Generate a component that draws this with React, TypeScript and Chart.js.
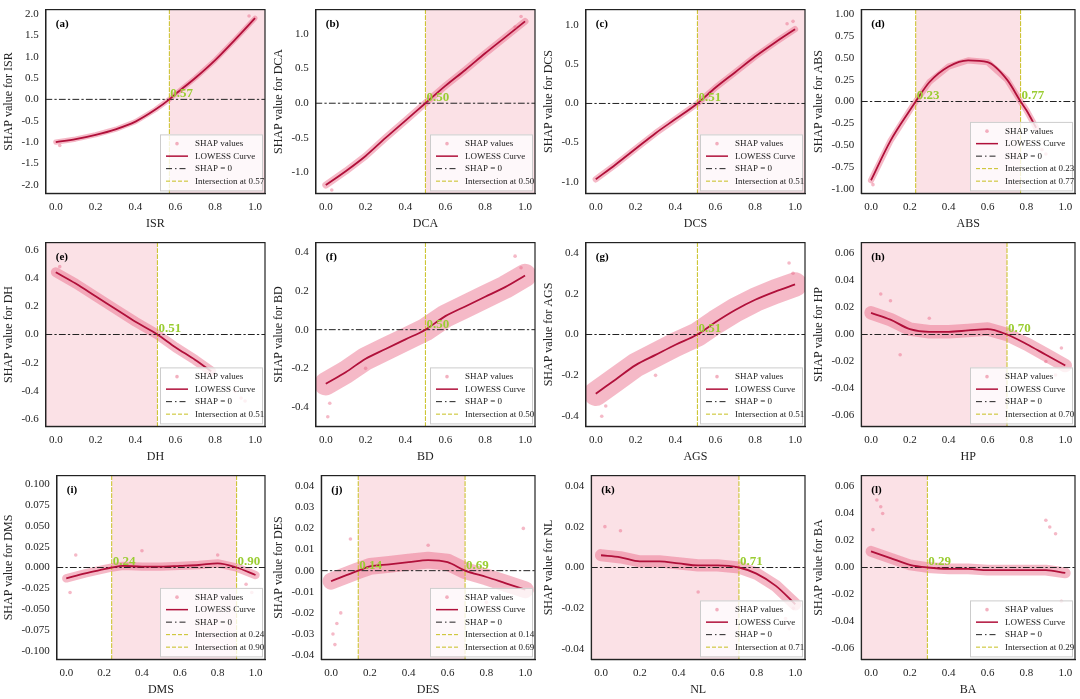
import React, { useEffect, useRef } from "react";
import { Chart, registerables } from "chart.js";

Chart.register(...registerables);

const FONT = "'Liberation Serif', 'DejaVu Serif', serif";

// ---- data ----
const letters = ["a", "b", "c", "d", "e", "f", "g", "h", "i", "j", "k", "l"];
const features = ["ISR", "DCA", "DCS", "ABS", "DH", "BD", "AGS", "HP", "DMS", "DES", "NL", "BA"];
const intersections: number[][] = [
  [0.57], [0.5], [0.51], [0.23, 0.77], [0.51], [0.5], [0.51], [0.7], [0.24, 0.9], [0.14, 0.69], [0.71], [0.29],
];
// shaded x-range (null = none)
const shades: (number[] | null)[] = [
  [0.57, 1.05], [0.5, 1.05], [0.51, 1.05], [0.23, 0.77], [-0.05, 0.51], null, null,
  [-0.05, 0.7], [0.24, 0.9], [0.14, 0.69], [-0.05, 0.71], [-0.05, 0.29],
];
const yMin = [-2.2, -1.3, -1.15, -1.05, -0.65, -0.5, -0.45, -0.068, -0.11, -0.042, -0.045, -0.068];
const yMax = [2.1, 1.35, 1.2, 1.05, 0.65, 0.45, 0.45, 0.068, 0.11, 0.045, 0.045, 0.068];
const ySteps = [0.5, 0.5, 0.5, 0.25, 0.2, 0.2, 0.2, 0.02, 0.025, 0.01, 0.02, 0.02];
const yDecimals = [1, 1, 1, 2, 1, 1, 1, 2, 3, 2, 2, 2];
// half-width of the scatter cloud around the curve (y units)
const spread = [0.06, 0.05, 0.04, 0.035, 0.035, 0.06, 0.06, 0.005, 0.005, 0.004, 0.003, 0.004];

const curveX: number[][] = [
  [0, 0.1, 0.2, 0.3, 0.4, 0.5, 0.57, 0.6, 0.7, 0.8, 0.9, 1.0],
  [0, 0.1, 0.2, 0.3, 0.4, 0.5, 0.6, 0.7, 0.8, 0.9, 1.0],
  [0, 0.1, 0.2, 0.3, 0.4, 0.51, 0.6, 0.7, 0.8, 0.9, 1.0],
  [0, 0.1, 0.2, 0.23, 0.3, 0.4, 0.5, 0.6, 0.7, 0.77, 0.8, 0.85],
  [0, 0.1, 0.2, 0.3, 0.4, 0.51, 0.6, 0.7, 0.78],
  [0, 0.1, 0.2, 0.3, 0.4, 0.5, 0.6, 0.7, 0.8, 0.9, 1.0],
  [0, 0.1, 0.2, 0.3, 0.4, 0.51, 0.6, 0.7, 0.8, 0.9, 1.0],
  [0, 0.1, 0.2, 0.3, 0.4, 0.5, 0.6, 0.7, 0.8, 0.9, 1.0],
  [0, 0.1, 0.2, 0.24, 0.3, 0.4, 0.5, 0.6, 0.7, 0.8, 0.9, 1.0],
  [0, 0.14, 0.2, 0.3, 0.4, 0.5, 0.6, 0.69, 0.8, 0.9, 1.0],
  [0, 0.1, 0.2, 0.3, 0.4, 0.5, 0.6, 0.71, 0.8, 0.9, 1.0],
  [0, 0.1, 0.2, 0.29, 0.4, 0.5, 0.6, 0.7, 0.8, 0.9, 1.0],
];
const curveY: number[][] = [
  [-1.0, -0.93, -0.83, -0.7, -0.52, -0.24, 0, 0.12, 0.5, 0.92, 1.4, 1.9],
  [-1.18, -0.98, -0.76, -0.5, -0.25, 0, 0.25, 0.48, 0.72, 0.95, 1.18],
  [-0.97, -0.78, -0.58, -0.38, -0.2, 0, 0.2, 0.4, 0.6, 0.78, 0.95],
  [-0.9, -0.45, -0.1, 0, 0.22, 0.4, 0.47, 0.45, 0.25, 0, -0.1, -0.3],
  [0.44, 0.36, 0.27, 0.18, 0.09, 0, -0.09, -0.18, -0.26],
  [-0.28, -0.22, -0.15, -0.1, -0.05, 0, 0.07, 0.12, 0.17, 0.22, 0.28],
  [-0.29, -0.22, -0.15, -0.1, -0.05, 0, 0.06, 0.12, 0.17, 0.21, 0.245],
  [0.016, 0.011, 0.004, 0.002, 0.002, 0.003, 0.004, 0, -0.007, -0.015, -0.023],
  [-0.013, -0.007, -0.002, 0, 0.002, 0.001, 0.001, 0.002, 0.003, 0.005, 0, -0.009],
  [-0.005, 0, 0.002, 0.003, 0.004, 0.005, 0.004, 0, -0.003, -0.006, -0.009],
  [0.006, 0.005, 0.003, 0.003, 0.002, 0.001, 0.001, 0, -0.003, -0.009, -0.018],
  [0.012, 0.007, 0.002, 0, -0.001, -0.001, -0.002, -0.002, -0.002, -0.002, -0.004],
];
// a few scattered SHAP points
const outX: number[][] = [
  [0.02, 0.6, 0.63, 0.97],
  [0.03, 0.95, 0.98],
  [0.96, 0.99],
  [0.88, 0.9, 0.01],
  [0.9, 0.93, 0.95, 0.02],
  [0.01, 0.02, 0.95, 0.98, 0.2],
  [0.03, 0.05, 0.97, 0.99, 0.3],
  [0.05, 0.1, 0.15, 0.9, 0.95, 0.98, 0.3],
  [0.02, 0.05, 0.4, 0.8, 0.95, 0.98],
  [0.01, 0.02, 0.03, 0.05, 0.1, 0.99, 0.5, 0.8],
  [0.02, 0.1, 0.5, 0.95, 0.97, 0.99],
  [0.03, 0.05, 0.06, 0.01, 0.9, 0.92, 0.95, 0.98],
];
const outY: number[][] = [
  [-1.08, 0.15, 0.2, 1.95],
  [-1.25, 1.1, 1.25],
  [1.02, 1.05],
  [-0.55, -0.6, -0.95],
  [-0.4, -0.45, -0.47, 0.48],
  [-0.45, -0.38, 0.38, 0.32, -0.2],
  [-0.4, -0.35, 0.35, 0.3, -0.2],
  [0.03, 0.025, -0.015, -0.02, -0.03, -0.01, 0.012],
  [-0.03, 0.015, 0.02, 0.015, -0.02, -0.03],
  [-0.03, -0.035, -0.025, -0.02, 0.015, 0.02, 0.012, -0.015],
  [0.02, 0.018, -0.012, -0.025, -0.03, -0.02],
  [0.05, 0.045, 0.04, 0.028, 0.035, 0.03, 0.025, -0.025],
];

const xTicks = [0, 0.2, 0.4, 0.6, 0.8, 1.0];

const PINK = "rgba(232,100,130,";
const CURVE = "#b0103a";

function makePlugin(i: number) {
  return {
    id: "decor" + i,
    beforeDatasetsDraw(chart: any) {
      const { ctx, chartArea: a, scales } = chart;
      const xs = scales.x, ys = scales.y;
      ctx.save();
      ctx.beginPath();
      ctx.rect(a.left, a.top, a.right - a.left, a.bottom - a.top);
      ctx.clip();
      const sh = shades[i];
      if (sh) {
        ctx.fillStyle = "rgba(248,205,214,0.6)";
        const x0 = xs.getPixelForValue(sh[0]);
        const x1 = xs.getPixelForValue(sh[1]);
        ctx.fillRect(x0, a.top, x1 - x0, a.bottom - a.top);
      }
      // scatter cloud
      const pxw = Math.abs(ys.getPixelForValue(spread[i]) - ys.getPixelForValue(0)) * 2;
      ctx.strokeStyle = PINK + "0.45)";
      ctx.lineWidth = pxw;
      ctx.lineCap = "round";
      ctx.lineJoin = "round";
      ctx.beginPath();
      curveX[i].forEach((x, k) => {
        const px = xs.getPixelForValue(x), py = ys.getPixelForValue(curveY[i][k]);
        if (k === 0) ctx.moveTo(px, py); else ctx.lineTo(px, py);
      });
      ctx.stroke();
      // zero line
      ctx.setLineDash([6, 3, 1.5, 3]);
      ctx.lineWidth = 1;
      ctx.strokeStyle = "#222";
      const y0 = ys.getPixelForValue(0);
      ctx.beginPath(); ctx.moveTo(a.left, y0); ctx.lineTo(a.right, y0); ctx.stroke();
      ctx.setLineDash([4, 2]);
      ctx.strokeStyle = "#c8c020";
      intersections[i].forEach((v) => {
        const px = xs.getPixelForValue(v);
        ctx.beginPath(); ctx.moveTo(px, a.top); ctx.lineTo(px, a.bottom); ctx.stroke();
      });
      ctx.restore();
    },
    afterDraw(chart: any) {
      const { ctx, chartArea: a, scales } = chart;
      const xs = scales.x, ys = scales.y;
      ctx.save();
      ctx.fillStyle = "#9acd32";
      ctx.font = "bold 13px " + FONT;
      ctx.textBaseline = "bottom";
      intersections[i].forEach((v) => {
        ctx.fillText(v.toFixed(2), xs.getPixelForValue(v) + 1, ys.getPixelForValue(0) + 1);
      });
      ctx.fillStyle = "#000";
      ctx.font = "bold 11px " + FONT;
      ctx.textBaseline = "top";
      ctx.fillText("(" + letters[i] + ")", a.left + 10, a.top + 9);
      // legend
      const rows = ["SHAP values", "LOWESS Curve", "SHAP = 0"];
      intersections[i].forEach((v) => rows.push("Intersection at " + v.toFixed(2)));
      const rh = 12.5, w = 102, h = rows.length * rh + 6;
      const lx = a.right - w - 3, ly = a.bottom - h - 3;
      ctx.fillStyle = "rgba(255,255,255,0.8)";
      ctx.strokeStyle = "#ccc";
      ctx.lineWidth = 1;
      ctx.fillRect(lx, ly, w, h);
      ctx.strokeRect(lx + 0.5, ly + 0.5, w, h);
      ctx.font = "9px " + FONT;
      ctx.textBaseline = "middle";
      rows.forEach((r, k) => {
        const cy = ly + 3 + rh * k + rh / 2;
        const sx = lx + 6;
        if (k === 0) {
          ctx.fillStyle = PINK + "0.5)";
          ctx.beginPath(); ctx.arc(sx + 11, cy, 1.8, 0, Math.PI * 2); ctx.fill();
        } else {
          ctx.beginPath();
          if (k === 1) { ctx.strokeStyle = CURVE; ctx.lineWidth = 1.5; ctx.setLineDash([]); }
          else if (k === 2) { ctx.strokeStyle = "#222"; ctx.lineWidth = 1; ctx.setLineDash([6, 3, 1.5, 3]); }
          else { ctx.strokeStyle = "#c8c020"; ctx.lineWidth = 1; ctx.setLineDash([4, 2]); }
          ctx.moveTo(sx, cy); ctx.lineTo(sx + 22, cy); ctx.stroke();
          ctx.setLineDash([]);
        }
        ctx.fillStyle = "#222";
        ctx.fillText(r, sx + 29, cy);
      });
      ctx.restore();
    },
  };
}

function Panel({ i }: { i: number }) {
  const ref = useRef<HTMLCanvasElement>(null);
  useEffect(() => {
    if (!ref.current) return;
    const tickFont = { family: FONT, size: 11 };
    const chart = new Chart(ref.current, {
      type: "line",
      data: {
        datasets: [
          {
            type: "scatter",
            data: outX[i].map((x, k) => ({ x, y: outY[i][k] })),
            pointRadius: 1.8,
            pointBackgroundColor: PINK + "0.45)",
            pointBorderWidth: 0,
          } as any,
          {
            data: curveX[i].map((x, k) => ({ x, y: curveY[i][k] })),
            borderColor: CURVE,
            borderWidth: 1.8,
            pointRadius: 0,
            tension: 0.4,
            cubicInterpolationMode: "monotone",
          },
        ],
      },
      options: {
        animation: false,
        responsive: false,
        layout: { padding: { top: 4, right: 5, left: 0, bottom: 2 } },
        plugins: { legend: { display: false }, tooltip: { enabled: false } },
        scales: {
          x: {
            type: "linear",
            min: -0.05,
            max: 1.05,
            afterBuildTicks: (s: any) => { s.ticks = xTicks.map((v) => ({ value: v })); },
            ticks: { font: tickFont, color: "#222", callback: (v: any) => Number(v).toFixed(1), maxRotation: 0 },
            grid: { display: false, drawTicks: true, tickLength: 4 },
            border: { color: "#222", width: 1.2 },
            title: { display: true, text: features[i], font: { family: FONT, size: 12 }, color: "#222", padding: 0 },
          },
          y: {
            min: yMin[i],
            max: yMax[i],
            afterBuildTicks: (s: any) => {
              const t = [];
              const st = ySteps[i];
              for (let v = Math.ceil(yMin[i] / st) * st; v <= yMax[i] + 1e-9; v += st) t.push({ value: Math.round(v / st) * st });
              s.ticks = t;
            },
            ticks: { font: tickFont, color: "#222", callback: (v: any) => Number(v).toFixed(yDecimals[i]) },
            grid: { display: false, tickLength: 4 },
            border: { color: "#222", width: 1.2 },
            title: { display: true, text: "SHAP value for " + features[i], font: { family: FONT, size: 12 }, color: "#222", padding: 2 },
          },
        },
      },
      plugins: [
        makePlugin(i),
        {
          id: "frame" + i,
          afterDraw(c: any) {
            const a = c.chartArea;
            c.ctx.save();
            c.ctx.strokeStyle = "#222";
            c.ctx.lineWidth = 1.2;
            c.ctx.strokeRect(a.left, a.top, a.right - a.left, a.bottom - a.top);
            c.ctx.restore();
          },
        },
      ],
    } as any);
    return () => chart.destroy();
  }, [i]);
  return <canvas ref={ref} width={270} height={233} style={{ width: 270, height: 233, display: "block" }} />;
}

export default function App() {
  return (
    <div style={{ position: "fixed", left: 0, top: 0, width: 1080, height: 699, background: "#fff", display: "grid", gridTemplateColumns: "repeat(4, 270px)", gridTemplateRows: "repeat(3, 233px)" }}>
      {letters.map((_, i) => <Panel key={i} i={i} />)}
    </div>
  );
}
